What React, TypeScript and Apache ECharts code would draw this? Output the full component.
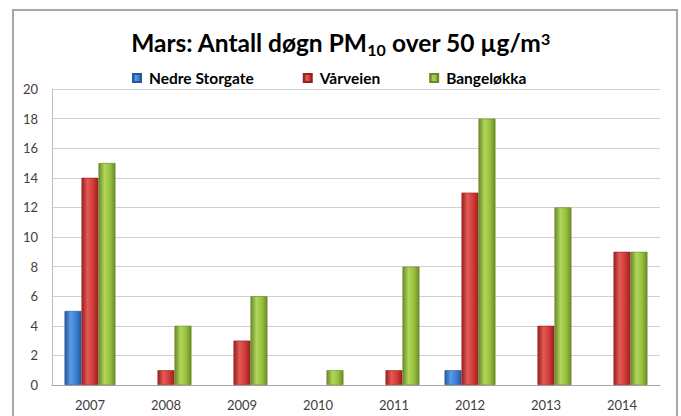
import React, { useEffect, useRef } from "react";
import * as echarts from "echarts";

const years = ["2007", "2008", "2009", "2010", "2011", "2012", "2013", "2014"];
const nedreStorgate = [5, 0, 0, 0, 0, 1, 0, 0];
const varveien = [14, 1, 3, 0, 1, 13, 4, 9];
const bangelokka = [15, 4, 6, 1, 8, 18, 12, 9];
const seriesNames = ["Nedre Storgate", "Vårveien", "Bangeløkka"];

const grad = (edge: string, mid: string, light: string) =>
  new echarts.graphic.LinearGradient(0, 0, 1, 0, [
    { offset: 0, color: edge },
    { offset: 0.35, color: light },
    { offset: 0.7, color: mid },
    { offset: 1, color: edge },
  ]);

export default function App() {
  const ref = useRef<HTMLDivElement>(null);
  useEffect(() => {
    if (!ref.current) return;
    const chart = echarts.init(ref.current, undefined, { renderer: "svg" });
    const font = "Lato, 'Open Sans', sans-serif";
    const mk = (name: string, data: number[], c: [string, string, string], legendColor: string) => ({
      name,
      type: "bar",
      data: data.map((v) => (v === 0 ? null : v)),
      barGap: "0%",
      barCategoryGap: "33%",
      itemStyle: { color: grad(c[0], c[1], c[2]), borderColor: c[0], borderWidth: 0.6 },
      color: legendColor,
    });
    chart.setOption({
      animation: false,
      backgroundColor: "#ffffff",
      textStyle: { fontFamily: font },
      title: {
        text: "{a|Mars: Antall døgn PM}{sub|10}{a| over 50 µg/m}{sup|3}",
        left: "center",
        top: 21,
        textStyle: {
          rich: {
            a: { fontFamily: font, fontSize: 24.5, fontWeight: "bold", color: "#000000", lineHeight: 32 },
            sub: { fontFamily: font, fontSize: 16, fontWeight: "bold", color: "#000000", lineHeight: 16, verticalAlign: "bottom", padding: [0, 0, 1, 0] },
            sup: { fontFamily: font, fontSize: 16, fontWeight: "bold", color: "#000000", lineHeight: 16, verticalAlign: "top", padding: [4, 0, 0, 0] },
          },
        },
      },
      legend: {
        data: seriesNames,
        top: 65,
        left: 127,
        icon: "rect",
        itemWidth: 8,
        itemHeight: 8,
        itemGap: 49,
        textStyle: { fontFamily: font, fontSize: 15.5, fontWeight: "bold", color: "#000000", padding: [0, 0, 0, 3] },
      },
      grid: { left: 52, right: 21, top: 89, bottom: 31, containLabel: false },
      xAxis: {
        type: "category",
        data: years,
        axisLine: { show: true, lineStyle: { color: "#a6a6a6", width: 1 } },
        axisTick: { show: false },
        axisLabel: { fontSize: 13, color: "#404040", margin: 13, fontFamily: font },
      },
      yAxis: {
        type: "value",
        min: 0,
        max: 20,
        interval: 2,
        axisLine: { show: true, lineStyle: { color: "#bfbfbf" } },
        axisTick: { show: false },
        splitLine: { lineStyle: { color: "#d0d0d0", width: 1 } },
        axisLabel: { fontSize: 13, color: "#404040", margin: 14, fontFamily: font },
      },
      graphic: [
        {
          type: "rect",
          shape: { x: 13, y: 10, width: 664, height: 430 },
          style: { fill: "none", stroke: "#a6a6a6", lineWidth: 2 },
          silent: true,
          z: 100,
        },
      ],
      series: [
        mk(seriesNames[0], nedreStorgate, ["#24589c", "#3a7fd4", "#5b9be6"], "#3a7fd4"),
        mk(seriesNames[1], varveien, ["#9a2020", "#cf3a38", "#e35a55"], "#cf3a38"),
        mk(seriesNames[2], bangelokka, ["#6a8a28", "#96c03c", "#b0d65a"], "#96c03c"),
      ],
    });
    return () => chart.dispose();
  }, []);
  return <div ref={ref} style={{ position: "fixed", left: 0, top: 0, width: 681, height: 416 }} />;
}
